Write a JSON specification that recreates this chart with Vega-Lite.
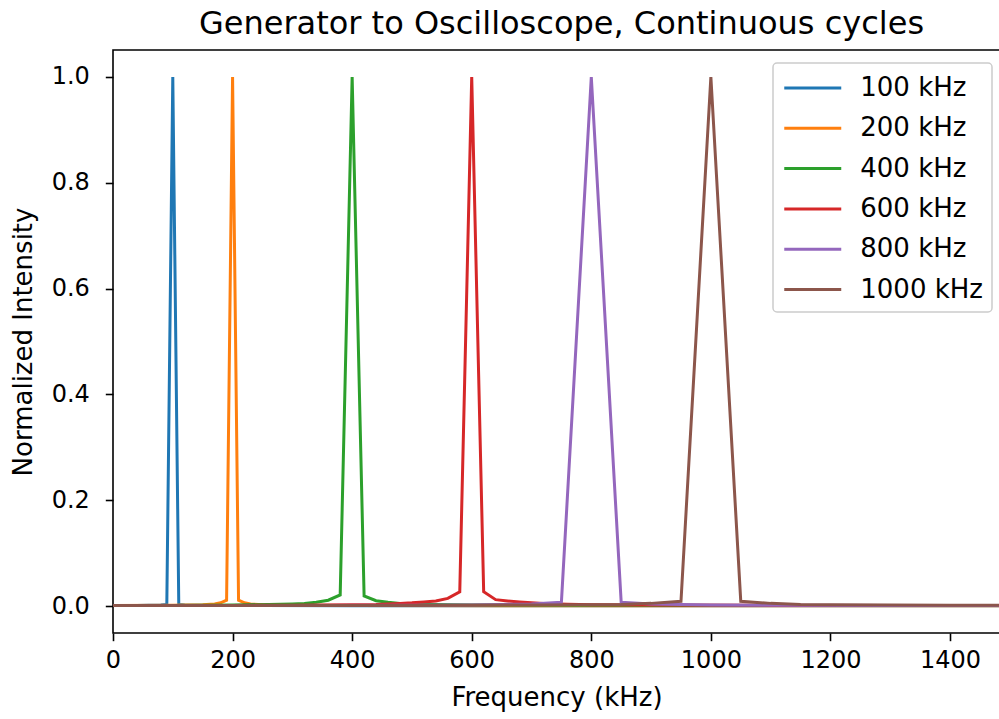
{
  "$schema": "https://vega.github.io/schema/vega-lite/v6.json",
  "autosize": "none",
  "padding": {"left": 113, "top": 50, "right": 0, "bottom": 86},
  "width": 887,
  "height": 583,
  "background": "white",
  "title": {"text": "Generator to Oscilloscope, Continuous cycles", "fontSize": 32, "font": "DejaVu Sans", "fontWeight": "normal", "color": "black", "anchor": "middle", "offset": 9, "dx": 5},
  "config": {
    "view": {"stroke": "black", "strokeWidth": 1.6},
    "font": "DejaVu Sans",
    "legend": {"strokeWidth": 1.5},
    "axis": {"grid": false, "domain": false, "ticks": true, "tickColor": "black", "tickWidth": 1.6, "tickSize": 7.7, "labelColor": "black", "titleColor": "black", "labelFontSize": 24, "titleFontSize": 26, "titleFontWeight": "normal", "labelFont": "DejaVu Sans", "titleFont": "DejaVu Sans", "labelPadding": 8, "labelFlush": false}
  },
  "data": {"values": [
    {"series": "100 kHz", "freq": 0, "intensity": 0.001},
    {"series": "100 kHz", "freq": 20, "intensity": 0.001},
    {"series": "100 kHz", "freq": 40, "intensity": 0.001},
    {"series": "100 kHz", "freq": 60, "intensity": 0.0015},
    {"series": "100 kHz", "freq": 80, "intensity": 0.002},
    {"series": "100 kHz", "freq": 90, "intensity": 0.003},
    {"series": "100 kHz", "freq": 100, "intensity": 1.0},
    {"series": "100 kHz", "freq": 110, "intensity": 0.003},
    {"series": "100 kHz", "freq": 120, "intensity": 0.002},
    {"series": "100 kHz", "freq": 140, "intensity": 0.0015},
    {"series": "100 kHz", "freq": 170, "intensity": 0.001},
    {"series": "100 kHz", "freq": 250, "intensity": 0.001},
    {"series": "100 kHz", "freq": 400, "intensity": 0.0007},
    {"series": "100 kHz", "freq": 700, "intensity": 0.0005},
    {"series": "100 kHz", "freq": 1000, "intensity": 0.0005},
    {"series": "100 kHz", "freq": 1500, "intensity": 0.0004},

    {"series": "200 kHz", "freq": 0, "intensity": 0.001},
    {"series": "200 kHz", "freq": 100, "intensity": 0.0015},
    {"series": "200 kHz", "freq": 150, "intensity": 0.0025},
    {"series": "200 kHz", "freq": 170, "intensity": 0.004},
    {"series": "200 kHz", "freq": 180, "intensity": 0.006},
    {"series": "200 kHz", "freq": 190, "intensity": 0.011},
    {"series": "200 kHz", "freq": 200, "intensity": 1.0},
    {"series": "200 kHz", "freq": 210, "intensity": 0.011},
    {"series": "200 kHz", "freq": 220, "intensity": 0.006},
    {"series": "200 kHz", "freq": 230, "intensity": 0.004},
    {"series": "200 kHz", "freq": 250, "intensity": 0.0025},
    {"series": "200 kHz", "freq": 300, "intensity": 0.0015},
    {"series": "200 kHz", "freq": 400, "intensity": 0.001},
    {"series": "200 kHz", "freq": 700, "intensity": 0.0007},
    {"series": "200 kHz", "freq": 1000, "intensity": 0.0005},
    {"series": "200 kHz", "freq": 1500, "intensity": 0.0004},

    {"series": "400 kHz", "freq": 0, "intensity": 0.001},
    {"series": "400 kHz", "freq": 100, "intensity": 0.0012},
    {"series": "400 kHz", "freq": 200, "intensity": 0.002},
    {"series": "400 kHz", "freq": 260, "intensity": 0.003},
    {"series": "400 kHz", "freq": 300, "intensity": 0.004},
    {"series": "400 kHz", "freq": 320, "intensity": 0.005},
    {"series": "400 kHz", "freq": 340, "intensity": 0.007},
    {"series": "400 kHz", "freq": 360, "intensity": 0.011},
    {"series": "400 kHz", "freq": 380, "intensity": 0.021},
    {"series": "400 kHz", "freq": 400, "intensity": 1.0},
    {"series": "400 kHz", "freq": 420, "intensity": 0.019},
    {"series": "400 kHz", "freq": 440, "intensity": 0.01},
    {"series": "400 kHz", "freq": 460, "intensity": 0.007},
    {"series": "400 kHz", "freq": 480, "intensity": 0.005},
    {"series": "400 kHz", "freq": 500, "intensity": 0.004},
    {"series": "400 kHz", "freq": 540, "intensity": 0.003},
    {"series": "400 kHz", "freq": 600, "intensity": 0.002},
    {"series": "400 kHz", "freq": 800, "intensity": 0.0015},
    {"series": "400 kHz", "freq": 1100, "intensity": 0.001},
    {"series": "400 kHz", "freq": 1500, "intensity": 0.0008},

    {"series": "600 kHz", "freq": 0, "intensity": 0.001},
    {"series": "600 kHz", "freq": 200, "intensity": 0.0012},
    {"series": "600 kHz", "freq": 300, "intensity": 0.0015},
    {"series": "600 kHz", "freq": 400, "intensity": 0.0025},
    {"series": "600 kHz", "freq": 440, "intensity": 0.003},
    {"series": "600 kHz", "freq": 460, "intensity": 0.004},
    {"series": "600 kHz", "freq": 480, "intensity": 0.005},
    {"series": "600 kHz", "freq": 500, "intensity": 0.006},
    {"series": "600 kHz", "freq": 520, "intensity": 0.0076},
    {"series": "600 kHz", "freq": 540, "intensity": 0.0095},
    {"series": "600 kHz", "freq": 560, "intensity": 0.0145},
    {"series": "600 kHz", "freq": 580, "intensity": 0.027},
    {"series": "600 kHz", "freq": 600, "intensity": 1.0},
    {"series": "600 kHz", "freq": 620, "intensity": 0.027},
    {"series": "600 kHz", "freq": 640, "intensity": 0.012},
    {"series": "600 kHz", "freq": 660, "intensity": 0.0095},
    {"series": "600 kHz", "freq": 680, "intensity": 0.0075},
    {"series": "600 kHz", "freq": 700, "intensity": 0.006},
    {"series": "600 kHz", "freq": 720, "intensity": 0.005},
    {"series": "600 kHz", "freq": 760, "intensity": 0.0035},
    {"series": "600 kHz", "freq": 800, "intensity": 0.0025},
    {"series": "600 kHz", "freq": 900, "intensity": 0.002},
    {"series": "600 kHz", "freq": 1100, "intensity": 0.0012},
    {"series": "600 kHz", "freq": 1500, "intensity": 0.001},

    {"series": "800 kHz", "freq": 0, "intensity": 0.001},
    {"series": "800 kHz", "freq": 300, "intensity": 0.001},
    {"series": "800 kHz", "freq": 500, "intensity": 0.0015},
    {"series": "800 kHz", "freq": 600, "intensity": 0.002},
    {"series": "800 kHz", "freq": 650, "intensity": 0.003},
    {"series": "800 kHz", "freq": 700, "intensity": 0.004},
    {"series": "800 kHz", "freq": 750, "intensity": 0.007},
    {"series": "800 kHz", "freq": 800, "intensity": 1.0},
    {"series": "800 kHz", "freq": 850, "intensity": 0.007},
    {"series": "800 kHz", "freq": 900, "intensity": 0.004},
    {"series": "800 kHz", "freq": 950, "intensity": 0.003},
    {"series": "800 kHz", "freq": 1000, "intensity": 0.002},
    {"series": "800 kHz", "freq": 1100, "intensity": 0.0015},
    {"series": "800 kHz", "freq": 1300, "intensity": 0.001},
    {"series": "800 kHz", "freq": 1500, "intensity": 0.001},

    {"series": "1000 kHz", "freq": 0, "intensity": 0.001},
    {"series": "1000 kHz", "freq": 300, "intensity": 0.001},
    {"series": "1000 kHz", "freq": 500, "intensity": 0.0012},
    {"series": "1000 kHz", "freq": 700, "intensity": 0.002},
    {"series": "1000 kHz", "freq": 800, "intensity": 0.0025},
    {"series": "1000 kHz", "freq": 850, "intensity": 0.003},
    {"series": "1000 kHz", "freq": 900, "intensity": 0.005},
    {"series": "1000 kHz", "freq": 950, "intensity": 0.009},
    {"series": "1000 kHz", "freq": 1000, "intensity": 1.0},
    {"series": "1000 kHz", "freq": 1050, "intensity": 0.009},
    {"series": "1000 kHz", "freq": 1100, "intensity": 0.005},
    {"series": "1000 kHz", "freq": 1150, "intensity": 0.003},
    {"series": "1000 kHz", "freq": 1200, "intensity": 0.0025},
    {"series": "1000 kHz", "freq": 1300, "intensity": 0.002},
    {"series": "1000 kHz", "freq": 1400, "intensity": 0.0015},
    {"series": "1000 kHz", "freq": 1500, "intensity": 0.0012}
  ]},
  "mark": {"type": "line", "strokeWidth": 3, "clip": true, "strokeJoin": "miter"},
  "encoding": {
    "x": {"field": "freq", "type": "quantitative", "scale": {"domain": [0, 1483.6], "nice": false, "zero": false},
      "axis": {"values": [0, 200, 400, 600, 800, 1000, 1200, 1400], "format": "d", "title": "Frequency (kHz)", "titlePadding": 12}},
    "y": {"field": "intensity", "type": "quantitative", "scale": {"domain": [-0.051, 1.051], "nice": false, "zero": false},
      "axis": {"values": [0, 0.2, 0.4, 0.6, 0.8, 1.0], "format": ".1f", "title": "Normalized Intensity", "titlePadding": 15, "labelPadding": 16}},
    "color": {"field": "series", "type": "nominal", "sort": null,
      "scale": {"domain": ["100 kHz", "200 kHz", "400 kHz", "600 kHz", "800 kHz", "1000 kHz"], "range": ["#1f77b4", "#ff7f0e", "#2ca02c", "#d62728", "#9467bd", "#8c564b"]},
      "legend": {"title": null, "orient": "none", "legendX": 660, "legendY": 13, "symbolType": "M-2,0H2", "symbolSize": 812, "symbolStrokeWidth": 3, "symbolOffset": 14.75, "labelOffset": 31.5, "labelFontSize": 26, "labelFont": "DejaVu Sans", "labelColor": "black", "rowPadding": 11.3, "padding": 9, "strokeColor": "#cccccc", "cornerRadius": 4, "fillColor": "white"}}
  }
}
